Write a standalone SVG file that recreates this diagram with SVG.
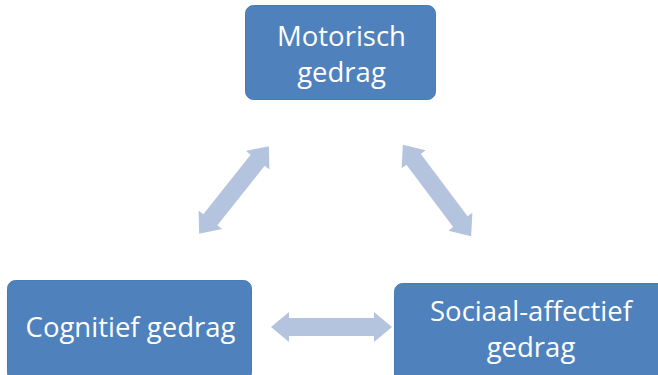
<svg xmlns="http://www.w3.org/2000/svg" width="658" height="375" viewBox="0 0 658 375">
<style>
.box{fill:#4F81BD;stroke:#4A7AB3;stroke-width:1}
.lbl{font-family:"Open Sans","Noto Sans",sans-serif;font-size:27.5px;fill:#FFFFFF;text-anchor:middle}
.arr{fill:#B4C4DF}
</style>
<rect width="658" height="375" fill="#FFFFFF"/>
<g id="connectors">
<path class="arr" transform="translate(234,190) rotate(-51.5)" d="M-56,0 L-38,-15 L-38,-9 L38,-9 L38,-15 L56,0 L38,15 L38,9 L-38,9 L-38,15 Z"/>
<path class="arr" transform="translate(437,190.5) rotate(53.2)" d="M-57,0 L-39,-15 L-39,-9 L39,-9 L39,-15 L57,0 L39,15 L39,9 L-39,9 L-39,15 Z"/>
<path class="arr" transform="translate(331.5,327)" d="M-60.5,0 L-42.5,-15 L-42.5,-9 L42.5,-9 L42.5,-15 L60.5,0 L42.5,15 L42.5,9 L-42.5,9 L-42.5,15 Z"/>
</g>
<g id="motorisch">
<rect class="box" x="245.5" y="5.5" width="190" height="94" rx="8"/>
<text class="lbl" x="341.5" y="46">Motorisch</text>
<text class="lbl" x="341.5" y="82">gedrag</text>
</g>
<g id="cognitief">
<rect class="box" x="7.5" y="280.5" width="244" height="100" rx="8"/>
<text class="lbl" x="130.5" y="337">Cognitief gedrag</text>
</g>
<g id="sociaal">
<rect class="box" x="394.5" y="283.5" width="275" height="100" rx="8"/>
<text class="lbl" x="531" y="321">Sociaal-affectief</text>
<text class="lbl" x="531" y="357">gedrag</text>
</g>
</svg>
